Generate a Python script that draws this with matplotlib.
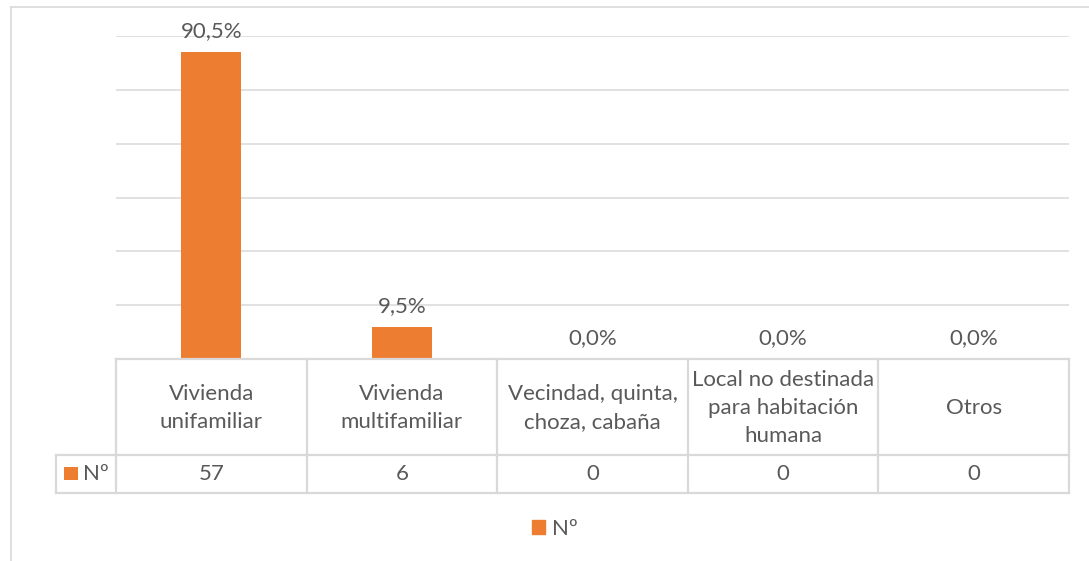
import matplotlib.pyplot as plt
from matplotlib.lines import Line2D
from matplotlib.patches import Rectangle, Patch

# datos
categorias = ["Vivienda\nunifamiliar", "Vivienda\nmultifamiliar", "Vecindad, quinta,\nchoza, cabaña",
              "Local no destinada\npara habitación\nhumana", "Otros"]
conteo = [57, 6, 0, 0, 0]
serie = "Nº"

naranja = "#ED7D31"
gris_txt = "#595959"
gris_lin = "#D9D9D9"
fs = 16

plt.rcParams["font.family"] = ["Lato", "DejaVu Sans"]
W, H = 1089, 561
fig = plt.figure(figsize=(W / 100, H / 100), dpi=100)

# ejes en pixeles
x0, x1, ybase, ytop = 116, 1069, 359, 36
ax = fig.add_axes([x0 / W, (H - ybase) / H, (x1 - x0) / W, (ybase - ytop) / H])
ax.set_xlim(-0.5, len(categorias) - 0.5)
ax.set_ylim(0, 60)
for s in ax.spines.values():
    s.set_visible(False)
ax.set_xticks([])
ax.set_yticks([])
for g in range(10, 61, 10):
    ax.axhline(g, color=gris_lin, lw=1.1, zorder=0)

xs = list(range(len(categorias)))
ax.bar(xs, conteo, width=0.315, color=naranja, zorder=2)

total = sum(conteo)
for x, v in zip(xs, conteo):
    pct = v / total * 100
    ax.annotate(f"{pct:.1f}%".replace(".", ","), (x, v), xytext=(0, 15), textcoords="offset points",
                ha="center", va="center", fontsize=fs, color=gris_txt)

# tabla de datos (debajo del eje)
def ya(ypix):
    return (ybase - ypix) / (ybase - ytop)

tr = ax.get_xaxis_transform()
y_head, y_row = 455, 493
xleft = -0.5 + (56 - x0) / ((x1 - x0) / len(categorias))
kw = dict(transform=tr, color=gris_lin, lw=1.6, clip_on=False, zorder=3)
ax.add_line(Line2D([-0.5, len(categorias) - 0.5], [ya(ybase), ya(ybase)], **kw))
ax.add_line(Line2D([xleft, len(categorias) - 0.5], [ya(y_head), ya(y_head)], **kw))
ax.add_line(Line2D([xleft, len(categorias) - 0.5], [ya(y_row), ya(y_row)], **kw))
ax.add_line(Line2D([xleft, xleft], [ya(y_head), ya(y_row)], **kw))
for k in range(len(categorias) + 1):
    ax.add_line(Line2D([k - 0.5, k - 0.5], [ya(ybase), ya(y_row)], **kw))

for x, c, v in zip(xs, categorias, conteo):
    ax.text(x, ya((ybase + y_head) / 2 + 1), c, transform=tr, ha="center", va="center",
            fontsize=fs, color=gris_txt, linespacing=1.5)
    ax.text(x, ya((y_head + y_row) / 2), str(v), transform=tr, ha="center", va="center",
            fontsize=fs, color=gris_txt)

# etiqueta de fila con marcador
fig.add_artist(Rectangle((64 / W, 1 - 480 / H), 14 / W, 13 / H, transform=fig.transFigure,
                         color=naranja, lw=0))
fig.text(83 / W, 1 - 474 / H, serie, ha="left", va="center", fontsize=fs, color=gris_txt)

# leyenda
fig.legend(handles=[Patch(color=naranja, label=serie)], loc="center", bbox_to_anchor=(555 / W, 1 - 529 / H),
           frameon=False, handlelength=0.6, handleheight=0.6, handletextpad=0.3,
           prop={"size": fs}, labelcolor=gris_txt)

# borde del area del grafico
fig.add_artist(Line2D([10.5 / W, 10.5 / W], [0, 1 - 7 / H], transform=fig.transFigure, color=gris_lin, lw=1.2))
fig.add_artist(Line2D([10.5 / W, 1], [1 - 7 / H, 1 - 7 / H], transform=fig.transFigure, color=gris_lin, lw=1.2))

fig.savefig("out.png", dpi=100, facecolor="white")
